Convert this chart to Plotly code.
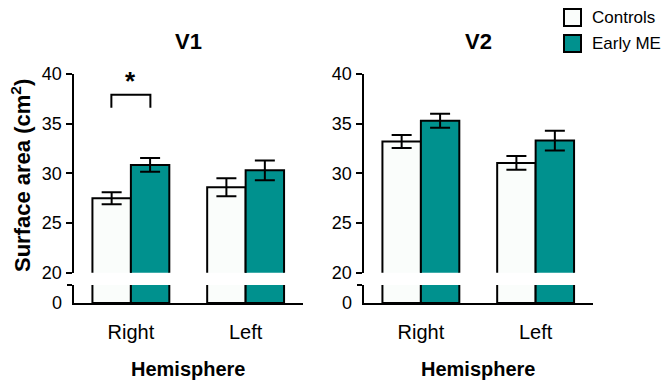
import plotly.graph_objects as go

# ---- data ----
hemispheres = ["Right", "Left"]
series_names = ["Controls", "Early ME"]
v1_controls = [27.5, 28.6]
v1_controls_err = [0.6, 0.9]
v1_early = [30.85, 30.3]
v1_early_err = [0.7, 1.0]
v2_controls = [33.2, 31.05]
v2_controls_err = [0.65, 0.7]
v2_early = [35.3, 33.3]
v2_early_err = [0.7, 1.0]
panel_titles = ["V1", "V2"]
y_ticks_top = [20, 25, 30, 35, 40]
y_ticks_bottom = [0]

W, H = 669, 386
FONT = "Liberation Sans, Arial, sans-serif"
C_CTRL = "#FAFDFB"
C_EARLY = "#00918E"

def px_x(p):
    return p / W

def px_y(p):
    return 1 - p / H

fig = go.Figure()

xpos = list(range(len(hemispheres)))
panels = [
    (v1_controls, v1_controls_err, v1_early, v1_early_err),
    (v2_controls, v2_controls_err, v2_early, v2_early_err),
]
for i, (c, ce, e, ee) in enumerate(panels):
    lo = 2 * i + 1
    up = 2 * i + 2
    xl = "x" if lo == 1 else f"x{lo}"
    yl = "y" if lo == 1 else f"y{lo}"
    xu, yu = f"x{up}", f"y{up}"
    for vals, errs, name, col in [(c, ce, series_names[0], C_CTRL), (e, ee, series_names[1], C_EARLY)]:
        fig.add_trace(go.Bar(
            x=xpos, y=vals, name=name, xaxis=xu, yaxis=yu,
            marker=dict(color=col, line=dict(color="black", width=2)),
            error_y=dict(type="data", array=errs, visible=True, color="black",
                         thickness=2, width=10),
            showlegend=False, hoverinfo="skip",
        ))
        fig.add_trace(go.Bar(
            x=xpos, y=vals, name=name, xaxis=xl, yaxis=yl,
            marker=dict(color=col, line=dict(color="black", width=2)),
            showlegend=False, hoverinfo="skip",
        ))

# significance bracket (V1, Right)
bracket_x = [-0.17, -0.17, 0.17, 0.17]
bracket_y = [36.6, 37.9, 37.9, 36.6]
fig.add_trace(go.Scatter(
    x=bracket_x, y=bracket_y, mode="lines", line=dict(color="black", width=2),
    xaxis="x2", yaxis="y2", showlegend=False, hoverinfo="skip",
))

x_domains = [[px_x(73.5), px_x(303)], [px_x(363.5), px_x(593)]]
top_dom = [px_y(272.7), px_y(74)]
bot_dom = [px_y(303), px_y(285)]

axis_common = dict(showgrid=False, zeroline=False, linecolor="black", linewidth=2,
                   tickfont=dict(family=FONT, size=18, color="black"), automargin=False)
layout = {}
for i in range(2):
    lo = 2 * i + 1
    up = 2 * i + 2
    xl_key = "xaxis" if lo == 1 else f"xaxis{lo}"
    yl_key = "yaxis" if lo == 1 else f"yaxis{lo}"
    layout[xl_key] = dict(
        domain=x_domains[i], range=[-0.5, 1.5], anchor="y" if lo == 1 else f"y{lo}",
        showline=True, tickvals=xpos, ticktext=hemispheres, ticks="",
        ticklabelstandoff=10, showgrid=False, zeroline=False,
        linecolor="black", linewidth=2, automargin=False,
        tickfont=dict(family=FONT, size=20, color="black"), fixedrange=True,
    )
    layout[yl_key] = dict(
        domain=bot_dom, range=[0, 1], anchor="x" if lo == 1 else f"x{lo}",
        showline=True, tickvals=y_ticks_bottom, ticktext=[str(v) for v in y_ticks_bottom],
        ticks="", ticklabelstandoff=6,
        minor=dict(tickmode="array", tickvals=[1], ticks="outside", ticklen=5,
                   tickwidth=2, tickcolor="black"),
        **axis_common,
    )
    layout[f"xaxis{up}"] = dict(
        domain=x_domains[i], range=[-0.5, 1.5], anchor=f"y{up}",
        visible=False, fixedrange=True,
    )
    layout[f"yaxis{up}"] = dict(
        domain=top_dom, range=[20, 40], anchor=f"x{up}",
        showline=True, tickvals=y_ticks_top, ticks="outside", ticklen=6,
        tickwidth=2, tickcolor="black",
        **axis_common,
    )

annotations = []
for i, t in enumerate(panel_titles):
    cx = px_x(188) if i == 0 else px_x(478)
    annotations.append(dict(text=f"<b>{t}</b>", x=cx, y=px_y(42), xref="paper", yref="paper",
                            xanchor="center", yanchor="middle", showarrow=False,
                            font=dict(family=FONT, size=22, color="black")))
    annotations.append(dict(text="<b>Hemisphere</b>", x=cx, y=px_y(369), xref="paper", yref="paper",
                            xanchor="center", yanchor="middle", showarrow=False,
                            font=dict(family=FONT, size=20, color="black")))
annotations.append(dict(text="<b>Surface area (cm<sup>2</sup>)</b>", x=px_x(21), y=px_y(176),
                        xref="paper", yref="paper", textangle=-90, showarrow=False,
                        xanchor="center", yanchor="middle",
                        font=dict(family=FONT, size=22, color="black")))
annotations.append(dict(text="<b>*</b>", x=0, y=39.3, xref="x2", yref="y2", showarrow=False,
                        xanchor="center", yanchor="middle",
                        font=dict(family=FONT, size=26, color="black")))

# legend (drawn manually)
shapes = []
legend_rows = [(series_names[0], C_CTRL, 17.5), (series_names[1], C_EARLY, 43.5)]
for name, col, cy in legend_rows:
    shapes.append(dict(type="rect", xref="paper", yref="paper",
                       x0=px_x(564), x1=px_x(581), y0=px_y(cy + 8.5), y1=px_y(cy - 8.5),
                       fillcolor=col, line=dict(color="black", width=2)))
    annotations.append(dict(text=name, x=px_x(590), y=px_y(cy), xref="paper", yref="paper",
                            xanchor="left", yanchor="middle", showarrow=False,
                            font=dict(family=FONT, size=17, color="black")))

fig.update_layout(
    width=W, height=H, margin=dict(l=0, r=0, t=0, b=0, autoexpand=False),
    paper_bgcolor="white", plot_bgcolor="white",
    barmode="group", bargap=0.33, bargroupgap=0,
    showlegend=False,
    annotations=annotations, shapes=shapes,
)
fig.update_layout(**layout)

fig.write_html("out.html", config={"displayModeBar": False},
               post_script="document.body.style.margin='0px';document.body.style.overflow='hidden';")
